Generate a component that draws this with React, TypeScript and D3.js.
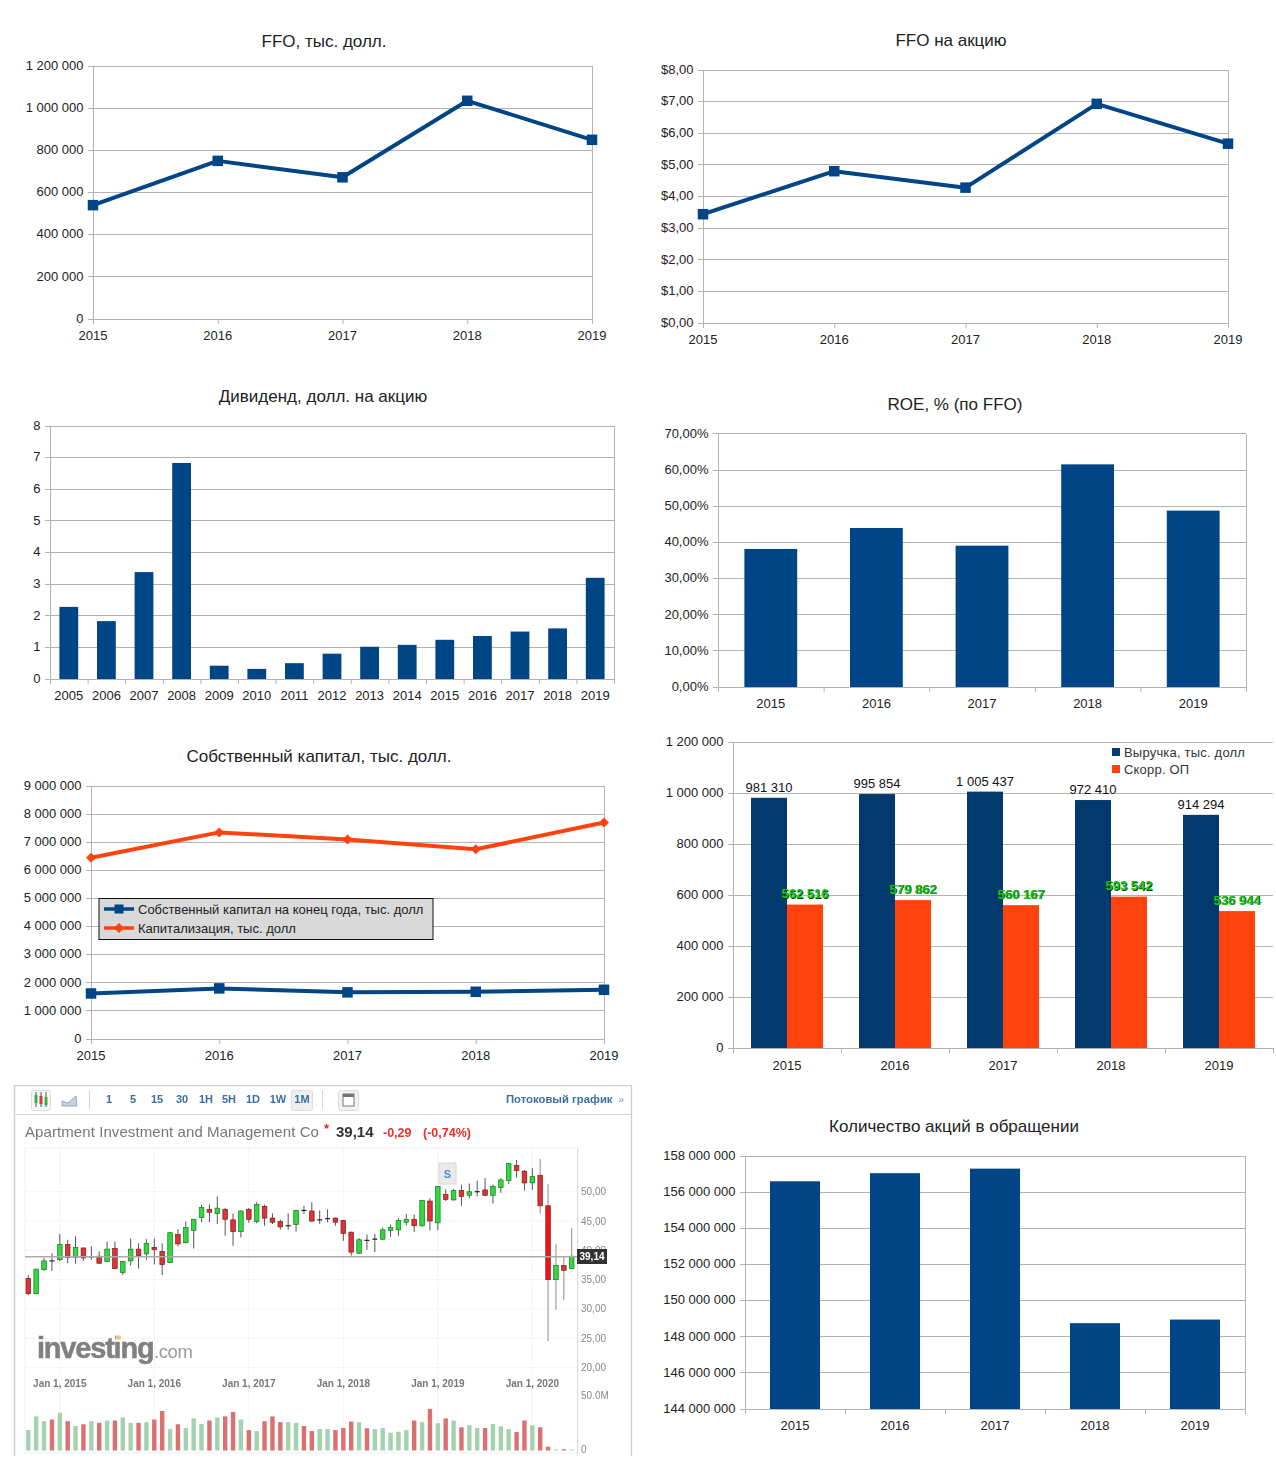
import React from "react";
import * as d3 from "d3";

const FONT = "'Liberation Sans', Arial, sans-serif";
const BLUE = "#004586";
const ORANGE = "#ff420e";
const NAVY = "#033a6e";
const GRID = "#b3b3b3";
const TEXT = "#222222";

const years = ["2015", "2016", "2017", "2018", "2019"];
const ffoValues = [540000, 750000, 672000, 1035000, 850000];
const ffoPerShare = [3.44, 4.8, 4.28, 6.93, 5.67];
const dividendYears = ["2005","2006","2007","2008","2009","2010","2011","2012","2013","2014","2015","2016","2017","2018","2019"];
const dividends = [2.28, 1.83, 3.38, 6.83, 0.42, 0.32, 0.5, 0.8, 1.02, 1.08, 1.24, 1.36, 1.5, 1.6, 3.2];
const roeValues = [0.382, 0.44, 0.391, 0.616, 0.488];
const equity = [1620000, 1800000, 1660000, 1680000, 1750000];
const capitalization = [6450000, 7350000, 7100000, 6750000, 7700000];
const revenue = [981310, 995854, 1005437, 972410, 914294];
const operatingProfit = [562516, 579862, 560167, 593542, 536944];
const sharesOutstanding = [156600000, 157050000, 157300000, 148750000, 148950000];

const opens = [35.2,32.6,36.7,38.2,38.4,41,38.8,40.4,38.9,39,38.1,40.3,36.2,38.2,40.2,39.4,40.5,39.8,37.9,42.7,41.3,43.4,45.6,47,46.3,47,45.2,43.2,47,44.9,47.5,45.5,44.9,44.2,44.4,46.8,46.7,45.2,45.4,45.5,45.1,43.1,39.5,41.7,41.9,41.9,43.4,43.5,44.8,45.3,44.2,48.4,44.7,49.5,48.6,50.2,49.4,50,50.3,49.4,50.7,51.9,54.5,53.5,51.5,52.8,47.6,35,37.4,36.9];
const closes = [32.6,36.8,38.2,38.2,41,38.8,40.5,38.7,38.9,37.8,40.2,36.9,38.1,40.2,39.1,41.2,40.1,37.6,43,41.1,43.9,45.3,47.3,46.5,47.2,45.3,43.2,46.7,45.3,47.8,45.5,44.8,44,44.1,46.8,46.7,45,45.2,45.3,44.8,42.9,39.7,41.8,41.8,41.9,43.5,43.9,45.1,45.3,44.2,48.5,45,50.9,48.7,50.2,49.2,50,50,49.4,50.9,52,54.8,53.6,51.5,52.6,47.6,35,37.4,36.6,39];
const highs = [35.8,36.8,38.7,39.5,42.8,41.8,42.4,40.5,40.7,39.8,41.5,41.5,38.2,42,41.2,41.9,42,41.2,43.1,43.6,44.9,45.3,47.8,47.8,49.2,47.2,46.3,46.8,47.2,48.2,47.8,46.3,45.2,46.3,46.9,47.6,48.2,46.8,47,45.6,45.2,43.2,42.1,42.7,42.8,43.9,44.4,45.5,46.2,46.1,48.5,48.9,51,50.4,50.5,51.2,51.4,51.9,52.3,51.2,52.3,54.9,55.4,53.7,54,55.6,51.3,41.1,38.8,43.8];
const lows = [32.4,32.6,36.5,36.5,38.2,37.8,37.7,38.2,38.4,37.7,38,36.8,35.8,37.4,36.9,38.4,37.6,35.8,37.8,40.7,41.2,40.3,44.8,44.8,44.5,42.5,40.8,42.2,44.7,44.6,44.2,44.5,43.5,43.5,43.2,46.2,44.8,44.5,44.8,44.2,41.6,39.1,39.4,40.1,39.7,41.8,42.3,42.5,44.2,43.1,44,43.4,43.4,48.4,48.5,47.6,48.9,49.2,49.2,48,49.8,51.3,52.4,50.2,50.3,46.3,24.5,29.9,31.5,36.9];
const volumes = [18.4,30.7,26.4,27.9,34.1,26.4,22.1,23.6,26.4,24.9,27,27,29.8,24.9,24.9,25.5,27.9,35.6,19.3,23.6,20.3,28.9,23.9,27,29.8,30.7,34.7,27.9,18.4,17.5,26.4,30.7,25.5,25.5,24.9,22.1,17.5,19.3,19.3,18.4,20.3,26.1,25.5,20,19.3,20.3,16,16.9,18.4,27,25.5,37.5,24.6,28.9,27,20.9,22.7,20.3,20.3,23.9,21.8,19.3,16.6,27,22.7,20.9,3.4,0.9,1.2,0.9];
const volumeDirections = "gggrgrgrgrgrggrgrrgrgggrgrrgrgrrrggrrggrrrgrgggggrgrgrgrggrgggrrgrrgrg";
const priceTicks = [50, 45, 40, 35, 30, 25, 20];
const dateLabels = ["Jan 1, 2015", "Jan 1, 2016", "Jan 1, 2017", "Jan 1, 2018", "Jan 1, 2019", "Jan 1, 2020"];
const dateIndices = [4, 16, 28, 40, 52, 64];
const intervals = ["1", "5", "15", "30", "1H", "5H", "1D", "1W", "1M"];
const intervalX = [109, 133, 157, 182, 206, 229, 253, 278, 302];

const locale = d3.formatLocale({ decimal: ",", thousands: "\u00a0", grouping: [3], currency: ["$", ""] });
const fmtInt = locale.format(",d");
const fmtUsd = locale.format("$.2f");
const fmtPct = locale.format(".2%");
const fmtPlain = (v: number) => String(v);

type Box = { l: number; r: number; t: number; b: number };

function Frame({ box, y, ticks, fmt, labels, x, mode, title, titleX, titleY, closedRight, axisLabelOffset = 16 }: any) {
  return (
    <g fontFamily={FONT} fontSize={13} fill={TEXT}>
      <text x={titleX} y={titleY} textAnchor="middle" fontSize={17}>{title}</text>
      {ticks.map((t: number) => (
        <g key={t}>
          <line x1={box.l - 5} x2={box.r} y1={Math.floor(y(t)) + 0.5} y2={Math.floor(y(t)) + 0.5} stroke={GRID} />
          <text x={box.l - 9.5} y={y(t) + 3.8} textAnchor="end">{fmt(t)}</text>
        </g>
      ))}
      <line x1={box.l + 0.5} x2={box.l + 0.5} y1={box.t} y2={box.b + 5} stroke={GRID} />
      {closedRight && <line x1={box.r + 0.5} x2={box.r + 0.5} y1={box.t} y2={box.b + 5} stroke={GRID} />}
      {mode === "point"
        ? labels.map((c: string) => (
            <g key={c}>
              <line x1={x(c) + 0.5} x2={x(c) + 0.5} y1={box.b} y2={box.b + 5} stroke={GRID} />
              <text x={x(c)} y={box.b + axisLabelOffset + 4.5} textAnchor="middle">{c}</text>
            </g>
          ))
        : labels.map((c: string, i: number) => (
            <g key={c}>
              <line x1={x(c)! + 0.5} x2={x(c)! + 0.5} y1={box.b} y2={box.b + 5} stroke={GRID} />
              {i === labels.length - 1 && (
                <line x1={box.r + 0.5} x2={box.r + 0.5} y1={box.b} y2={box.b + 5} stroke={GRID} />
              )}
              <text x={x(c)! + x.bandwidth() / 2} y={box.b + axisLabelOffset + 4.5} textAnchor="middle">{c}</text>
            </g>
          ))}
    </g>
  );
}

function Marker({ cx, cy, kind, color, size }: any) {
  if (kind === "diamond") {
    const s = size / 2 + 1;
    return <path d={`M${cx},${cy - s}L${cx + s},${cy}L${cx},${cy + s}L${cx - s},${cy}Z`} fill={color} />;
  }
  return <rect x={cx - size / 2} y={cy - size / 2} width={size} height={size} fill={color} />;
}

function Series({ values, x, y, color, kind = "square", size = 10.5, width = 4 }: any) {
  const pts: [number, number][] = years.map((c, i) => [x(c), y(values[i])]);
  const path = d3.line()(pts) as string;
  return (
    <g>
      <path d={path} fill="none" stroke={color} strokeWidth={width} strokeLinejoin="round" />
      {pts.map((p, i) => <Marker key={i} cx={p[0]} cy={p[1]} kind={kind} color={color} size={size} />)}
    </g>
  );
}

function LineChart({ box, domain, step, fmt, values, title, titleX, titleY }: any) {
  const x = d3.scalePoint<string>().domain(years).range([box.l, box.r]);
  const y = d3.scaleLinear().domain(domain).range([box.b, box.t]);
  const ticks = d3.range(domain[0], domain[1] + step / 2, step);
  return (
    <g>
      <Frame box={box} y={y} ticks={ticks} fmt={fmt} labels={years} x={x} mode="point" closedRight title={title} titleX={titleX} titleY={titleY} />
      <Series values={values} x={x} y={y} color={BLUE} />
    </g>
  );
}

function BarChart({ box, domain, step, fmt, cats, values, title, titleX, titleY, pad, closedRight }: any) {
  const x = d3.scaleBand<string>().domain(cats).range([box.l, box.r]).paddingInner(pad).paddingOuter(pad / 2);
  const full = d3.scaleBand<string>().domain(cats).range([box.l, box.r]);
  const y = d3.scaleLinear().domain(domain).range([box.b, box.t]);
  const ticks = d3.range(domain[0], domain[1] + step / 2, step);
  return (
    <g>
      <Frame box={box} y={y} ticks={ticks} fmt={fmt} labels={cats} x={full} mode="band" closedRight={closedRight} title={title} titleX={titleX} titleY={titleY} />
      {cats.map((c: string, i: number) => (
        <rect key={c} x={x(c)} y={y(values[i])} width={x.bandwidth()} height={box.b - y(values[i])} fill={BLUE} />
      ))}
    </g>
  );
}

function EquityChart() {
  const box: Box = { l: 91, r: 604, t: 786, b: 1039 };
  const x = d3.scalePoint<string>().domain(years).range([box.l, box.r]);
  const y = d3.scaleLinear().domain([0, 9000000]).range([box.b, box.t]);
  const ticks = d3.range(0, 9000001, 1000000);
  return (
    <g>
      <Frame box={box} y={y} ticks={ticks} fmt={fmtInt} labels={years} x={x} mode="point" closedRight title="Собственный капитал, тыс. долл." titleX={319} titleY={762} />
      <Series values={equity} x={x} y={y} color={BLUE} size={10.5} />
      <Series values={capitalization} x={x} y={y} color={ORANGE} kind="diamond" size={8} />
      <g fontFamily={FONT} fontSize={13} fill={TEXT}>
        <rect x={99} y={898.5} width={334} height={41} fill="#d9d9d9" stroke="#111" />
        <line x1={104} x2={134} y1={909} y2={909} stroke={BLUE} strokeWidth={3.5} />
        <Marker cx={119} cy={909} kind="square" color={BLUE} size={9} />
        <text x={138} y={914}>Собственный капитал на конец года, тыс. долл</text>
        <line x1={104} x2={134} y1={928} y2={928} stroke={ORANGE} strokeWidth={3.5} />
        <Marker cx={119} cy={928} kind="diamond" color={ORANGE} size={8} />
        <text x={138} y={933}>Капитализация, тыс. долл</text>
      </g>
    </g>
  );
}

function RevenueChart() {
  const box: Box = { l: 733, r: 1273, t: 742, b: 1048 };
  const full = d3.scaleBand<string>().domain(years).range([box.l, box.r]);
  const y = d3.scaleLinear().domain([0, 1200000]).range([box.b, box.t]);
  const ticks = d3.range(0, 1200001, 200000);
  const barW = full.bandwidth() / 3;
  return (
    <g>
      <Frame box={box} y={y} ticks={ticks} fmt={fmtInt} labels={years} x={full} mode="band" closedRight={false} title="" titleX={0} titleY={0} axisLabelOffset={17} />
      <g fontFamily={FONT} fontSize={13}>
        {years.map((c, i) => {
          const x0 = full(c)! + barW / 2;
          return (
            <g key={c}>
              <rect x={x0} y={y(revenue[i])} width={barW} height={box.b - y(revenue[i])} fill={NAVY} />
              <rect x={x0 + barW} y={y(operatingProfit[i])} width={barW} height={box.b - y(operatingProfit[i])} fill={ORANGE} />
              <text x={x0 + barW / 2} y={y(revenue[i]) - 6} textAnchor="middle" fill="#111">{fmtInt(revenue[i])}</text>
              <text x={x0 + barW * 1.5 + 0.7} y={y(operatingProfit[i]) - 5.8} textAnchor="middle" fill="#0b3d0b" fontWeight="bold" fontSize={13}>{fmtInt(operatingProfit[i])}</text>
              <text x={x0 + barW * 1.5} y={y(operatingProfit[i]) - 6.5} textAnchor="middle" fill="#19c419" fontWeight="bold" fontSize={13}>{fmtInt(operatingProfit[i])}</text>
            </g>
          );
        })}
        <rect x={1112} y={748} width={8} height={8} fill={NAVY} />
        <text x={1124} y={757} fill="#333" letterSpacing={0.2}>Выручка, тыс. долл</text>
        <rect x={1112} y={765} width={8} height={8} fill={ORANGE} />
        <text x={1124} y={774} fill="#333" letterSpacing={0.2}>Скорр. ОП</text>
      </g>
    </g>
  );
}

function Investing() {
  const x = d3.scaleLinear().domain([0, 69]).range([28.3, 571.7]);
  const y = d3.scaleLinear().domain([50, 25]).range([1191.7, 1338.3]);
  const v = d3.scaleLinear().domain([0, 50]).range([1450.5, 1395]);
  const last = y(closes[closes.length - 1]);
  const candleW = 4.6;
  return (
    <g fontFamily={FONT} filter="url(#soft)">
      <rect x={14.5} y={1085.5} width={617} height={380} fill="#fff" stroke="#cfcfcf" strokeWidth={1.4} />
      <rect x={0} y={1456} width={640} height={16} fill="#fff" />
      <line x1={15} x2={631} y1={1114.5} y2={1114.5} stroke="#d5d5d5" />
      <line x1={89.5} x2={89.5} y1={1090} y2={1109} stroke="#d5d5d5" />
      <line x1={322.5} x2={322.5} y1={1090} y2={1109} stroke="#d5d5d5" />
      <rect x={31.5} y={1090.5} width={19} height={20} rx={2} fill="#f7f7f7" stroke="#dcdcdc" />
      {[36, 41, 46].map((cx, i) => (
        <g key={cx}>
          <line x1={cx} x2={cx} y1={1092} y2={1107} stroke="#555" />
          <rect x={cx - 1.5} y={1095 + i} width={3} height={8} fill={i === 1 ? "#d63b3b" : "#37b24a"} />
        </g>
      ))}
      <path d="M62,1106 L62,1101 L68,1103 L76,1096 L77,1106 Z" fill="#c6d3e3" stroke="#7d98b8" strokeWidth={0.8} />
      {intervals.map((t, i) => (
        <g key={t}>
          {t === "1M" && <rect x={291.5} y={1090.5} width={21} height={20} rx={2} fill="#efefef" stroke="#dedede" />}
          <text x={intervalX[i]} y={1103} textAnchor="middle" fontSize={11} fontWeight="bold" fill="#3a6ea5">{t}</text>
        </g>
      ))}
      <rect x={338.5} y={1090.5} width={20} height={20} rx={2} fill="#f2f2f2" stroke="#dcdcdc" />
      <rect x={343} y={1094} width={11} height={12} fill="#fff" stroke="#777" />
      <rect x={343} y={1094} width={11} height={3} fill="#777" />
      <text x={506} y={1103} fontSize={11.3} fontWeight="bold" fill="#3a6ea5">Потоковый график</text>
      <text x={618} y={1103} fontSize={11} fill="#7d9cc0">»</text>

      <text x={25} y={1137} fontSize={15} fill="#777" letterSpacing={0.08}>Apartment Investment and Management Co</text>
      <text x={324} y={1133} fontSize={13} fontWeight="bold" fill="#e02020">*</text>
      <text x={336} y={1137} fontSize={15} fontWeight="bold" fill="#333">39,14</text>
      <text x={383} y={1137} fontSize={12.5} fontWeight="bold" fill="#ee2d2d">-0,29</text>
      <text x={423} y={1137} fontSize={12.5} fontWeight="bold" fill="#ee2d2d">(-0,74%)</text>

      <rect x={25} y={1148} width={553} height={305} fill="#fff" stroke="#f0f0f0" />
      {priceTicks.map((p) => <line key={p} x1={25} x2={577} y1={y(p)} y2={y(p)} stroke="#f4f4f4" />)}
      {dateIndices.map((d) => <line key={d} x1={x(d)} x2={x(d)} y1={1148} y2={1452} stroke="#f4f4f4" />)}
      <line x1={577.5} x2={577.5} y1={1148} y2={1456} stroke="#d5dfe8" />

      <text x={37} y={1358} fontSize={29} fontWeight="bold" fill="#808080" stroke="#808080" strokeWidth={0.5} letterSpacing={-1.2}>investing</text>
      <text x={154} y={1358} fontSize={18.5} fill="#9a9a9a" letterSpacing={-0.4}>.com</text>
      <rect x={116} y={1336} width={5} height={3} fill="#f3c78a" />

      {dateLabels.map((t, i) => (
        <text key={t} x={x(dateIndices[i])} y={1387} textAnchor="middle" fontSize={10} fontWeight="bold" fill="#777">{t}</text>
      ))}

      {opens.map((o, i) => {
        const c = closes[i];
        const doji = Math.abs(o - c) < 0.15;
        const up = c >= o;
        return (
          <g key={i}>
            <line x1={x(i)} x2={x(i)} y1={y(highs[i])} y2={y(lows[i])} stroke={i >= 65 ? "#8a8a8a" : "#555"} strokeWidth={1} />
            {doji ? (
              <line x1={x(i) - 2.5} x2={x(i) + 2.5} y1={y(o)} y2={y(o)} stroke="#222" strokeWidth={1.2} />
            ) : (
              <rect x={x(i) - candleW / 2} y={y(Math.max(o, c))} width={candleW} height={Math.abs(y(o) - y(c))}
                fill={up ? "#32d83f" : i === 66 ? "#f01818" : "#dd3338"} stroke={up ? "#157a1e" : "#7a1a1a"} strokeWidth={0.7} />
            )}
          </g>
        );
      })}

      <line x1={25} x2={578} y1={last + 0.5} y2={last + 0.5} stroke="#aaa" strokeWidth={1.4} />

      <rect x={439} y={1163} width={17} height={21} fill="#e9e9e9" stroke="#d8d8d8" />
      <text x={447.5} y={1178} textAnchor="middle" fontSize={11} fontWeight="bold" fill="#5c8cc4">S</text>

      {priceTicks.map((p) => (
        <text key={p} x={581} y={y(p) + 3.5} fontSize={10} fill="#888">{locale.format(".2f")(p)}</text>
      ))}
      <rect x={577} y={1249} width={30} height={15} fill="#333" />
      <text x={592} y={1260} textAnchor="middle" fontSize={10} fontWeight="bold" fill="#fff">39,14</text>
      <text x={581} y={1399} fontSize={10} fill="#888">50.0M</text>
      <text x={581} y={1453} fontSize={10} fill="#888">0</text>

      {volumes.map((val, i) => (
        <rect key={i} x={x(i) - 2.2} y={v(val)} width={4.4} height={v(0) - v(val)}
          fill={volumeDirections[i] === "g" ? "#a2d2ae" : "#da6f6f"} />
      ))}
    </g>
  );
}

export default function App() {
  return (
    <svg width={1276} height={1472} viewBox="0 0 1276 1472" style={{ position: "absolute", left: 0, top: 0, background: "#fff" }}>
      <defs>
        <filter id="soft" x="0" y="0" width="100%" height="100%">
          <feGaussianBlur stdDeviation="0.35" />
        </filter>
      </defs>
      <LineChart box={{ l: 93, r: 592, t: 66, b: 319 }} domain={[0, 1200000]} step={200000} fmt={fmtInt} values={ffoValues}
        title="FFO, тыс. долл." titleX={324} titleY={47} />
      <LineChart box={{ l: 703, r: 1228, t: 70, b: 323 }} domain={[0, 8]} step={1} fmt={fmtUsd} values={ffoPerShare}
        title="FFO на акцию" titleX={951} titleY={46} />
      <BarChart box={{ l: 50, r: 614, t: 426, b: 679 }} domain={[0, 8]} step={1} fmt={fmtPlain} cats={dividendYears} values={dividends}
        title="Дивиденд, долл. на акцию" titleX={323} titleY={402} pad={0.5} closedRight />
      <BarChart box={{ l: 718, r: 1246, t: 434, b: 687 }} domain={[0, 0.7]} step={0.1} fmt={fmtPct} cats={years} values={roeValues}
        title="ROE, % (по FFO)" titleX={955} titleY={410} pad={0.5} closedRight />
      <EquityChart />
      <RevenueChart />
      <Investing />
      <BarChart box={{ l: 745, r: 1245, t: 1156, b: 1409 }} domain={[144000000, 158000000]} step={2000000} fmt={fmtInt} cats={years} values={sharesOutstanding}
        title="Количество акций в обращении" titleX={954} titleY={1132} pad={0.5} closedRight />
    </svg>
  );
}
